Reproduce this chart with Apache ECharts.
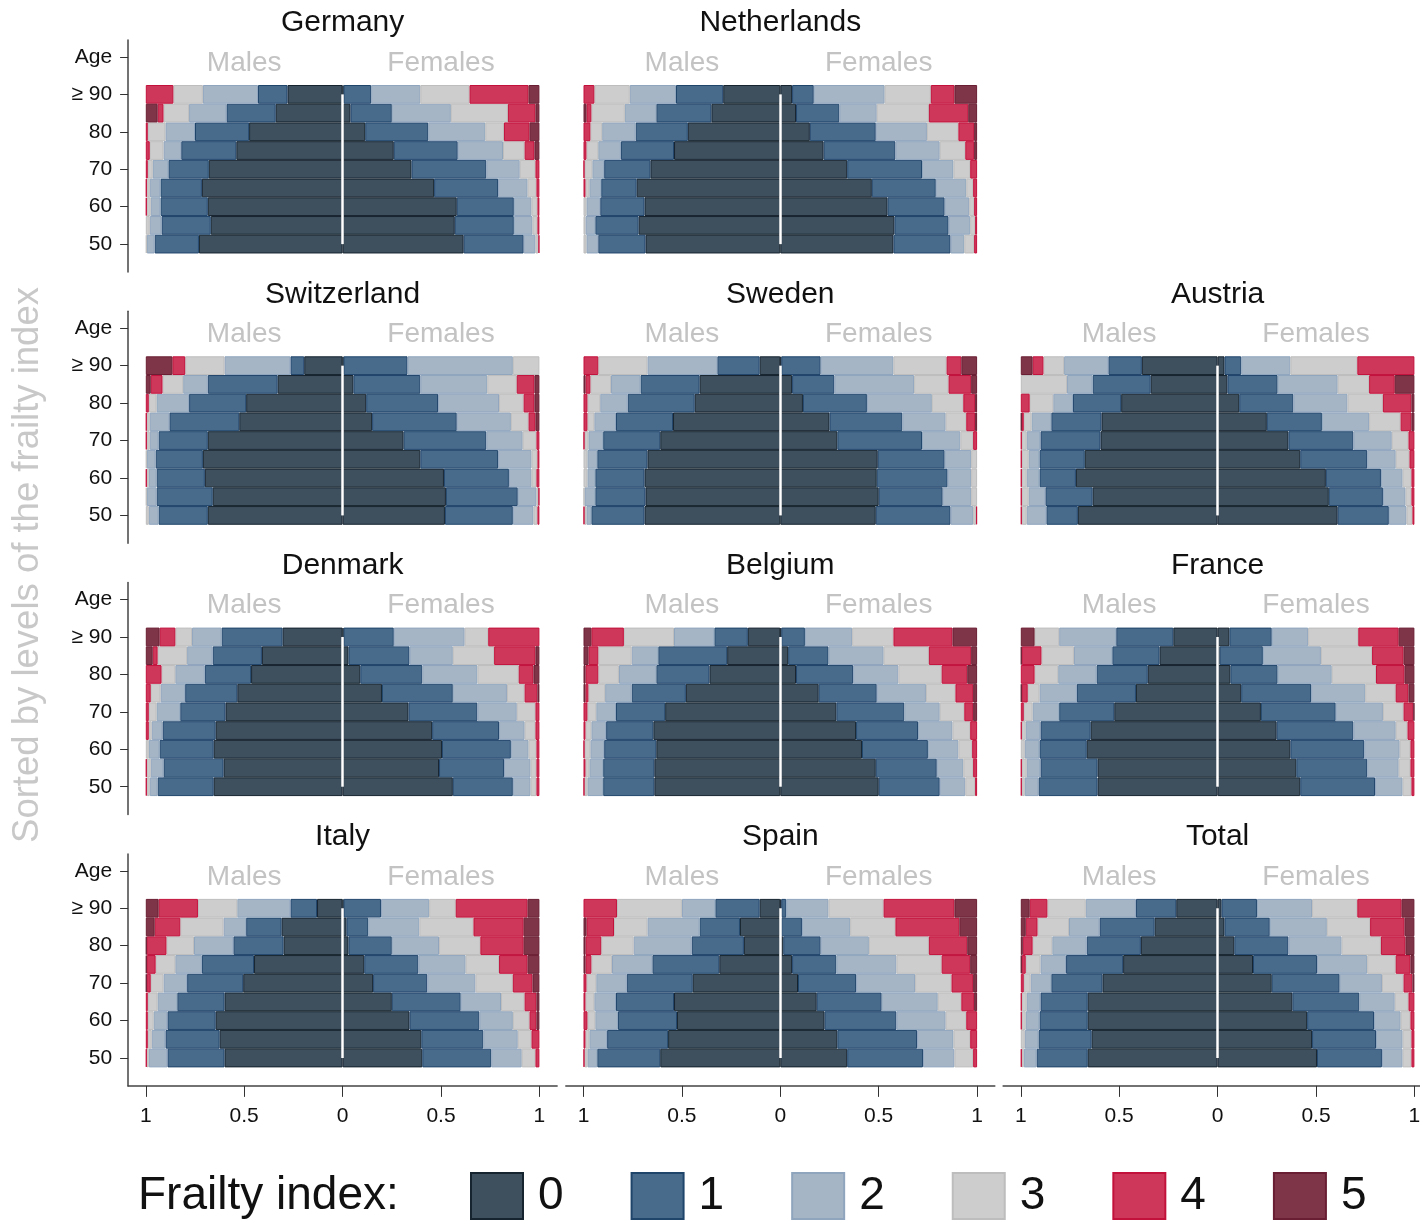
<!DOCTYPE html>
<html>
<head>
<meta charset="utf-8">
<script src="https://cdn.jsdelivr.net/npm/echarts@6/dist/echarts.min.js"></script>
<style>
  html, body { margin: 0; padding: 0; background: #fff; }
  #chart { width: 1420px; height: 1221px; }
</style>
</head>
<body>
<div id="chart"></div>
<script>
// Age groups (bottom to top) and frailty index levels
const ageGroups = ['50', '55', '60', '65', '70', '75', '80', '85', '≥ 90'];
const frailtyLevels = ['0', '1', '2', '3', '4', '5'];
const xTickValues = [-1, -0.5, 0, 0.5, 1];
const countries = ['Germany', 'Netherlands', 'Switzerland', 'Sweden', 'Austria',
  'Denmark', 'Belgium', 'France', 'Italy', 'Spain', 'Total'];

// Share (%) of each frailty level 0..5; rows listed from ≥ 90 down to 50
const germanyMales = [
  [28, 15, 28, 15, 14, 0], [34, 25, 19, 13, 3, 6], [47.5, 27.5, 15, 9, 1, 0],
  [54, 28, 9, 7, 2, 0], [68, 20.5, 8, 2.5, 1, 0], [71.5, 21, 5.5, 1.5, 0.5, 0],
  [68.5, 24, 5, 2, 0.5, 0], [67, 25, 6, 2, 0, 0], [73, 22.5, 4, 0.5, 0, 0]];
const germanyFemales = [
  [0.5, 14, 25, 25, 30, 5.5], [4, 21, 30, 29, 14, 2], [11.5, 32, 29, 9.5, 13, 5],
  [26, 32.5, 23, 11, 5, 2.5], [35, 38, 17, 8, 2, 0], [46.5, 32.5, 15, 4.5, 1.5, 0],
  [58, 29, 9, 3, 1, 0], [57, 30, 9.5, 2.5, 1, 0], [61.5, 30.5, 6, 1.5, 0.5, 0]];

const netherlandsMales = [
  [29, 24, 23.5, 18, 5.5, 0], [35, 28, 16, 17, 2.5, 1.5], [47, 26.5, 17, 6, 3.5, 0],
  [54, 27, 11.5, 6, 1.5, 0], [66, 23.5, 6, 4, 0.5, 0], [73, 18, 6, 2, 1, 0],
  [69, 22.5, 7, 1.5, 0, 0], [72, 22, 5, 1, 0, 0], [68.5, 24, 6, 1.5, 0, 0]];
const netherlandsFemales = [
  [6, 11, 36, 23.5, 12, 11.5], [8, 22, 19, 26.5, 20, 4.5], [15, 33.5, 26, 16, 8, 1.5],
  [22, 36.5, 22.5, 13, 4.5, 1.5], [34, 38, 16, 8.5, 3.5, 0], [46.5, 32.5, 15.5, 3.5, 2, 0],
  [54.5, 29, 12.5, 2.5, 1.5, 0], [58, 27.5, 11, 2.5, 1, 0], [57.5, 29, 7, 5, 1.5, 0]];

const switzerlandMales = [
  [19.5, 7, 33.5, 20, 6.5, 13.5], [33, 35.5, 12.5, 10.5, 6, 2.5], [49, 29, 16.5, 4, 1.5, 0],
  [52.5, 35.5, 10, 1.5, 0.5, 0], [68.5, 25, 4.5, 1.5, 0.5, 0], [71, 24, 4.5, 0.5, 0, 0],
  [70, 24.5, 4, 1, 0.5, 0], [66, 28.5, 5, 0.5, 0, 0], [68.5, 25, 5, 1.5, 0, 0]];
const switzerlandFemales = [
  [0.5, 32.5, 53.5, 13.5, 0, 0], [5.5, 34, 34, 15, 9, 2.5], [12, 36.5, 31, 12.5, 5.5, 2.5],
  [15, 43, 27.5, 9, 3.5, 2], [31, 42, 18.5, 7, 1.5, 0], [39.5, 39.5, 17, 3, 1, 0],
  [51.5, 33, 11.5, 2.5, 1.5, 0], [52.5, 36.5, 9.5, 1, 0.5, 0], [52, 34.5, 10.5, 2, 1, 0]];

const swedenMales = [
  [10.5, 21.5, 35.5, 25, 7.5, 0], [41, 30, 15, 10.5, 2.5, 1], [43.5, 34, 14, 6.5, 2, 0],
  [54.5, 29, 11, 3.5, 2, 0], [61, 29, 7.5, 2, 0.5, 0], [67.5, 25.5, 5, 2, 0, 0],
  [69, 25, 4, 2, 0, 0], [68.5, 25.5, 5.5, 0.5, 0, 0], [69, 27, 2.5, 1, 0.5, 0]];
const swedenFemales = [
  [0.5, 20, 37, 27, 7.5, 8], [6, 21.5, 40.5, 17.5, 11.5, 3], [11.5, 32.5, 33, 16, 6, 1],
  [25, 37, 22, 10.5, 4.5, 1], [29, 43, 19.5, 6.5, 2, 0], [49.5, 34, 13.5, 3, 0, 0],
  [49, 36, 12, 3, 0, 0], [50, 32.5, 14.5, 3, 0, 0], [48.5, 38, 11.5, 1.5, 0.5, 0]];

const austriaMales = [
  [38.5, 17, 22.5, 10.5, 5.5, 6], [34, 29.5, 13, 23.5, 0, 0], [49, 24.5, 10, 12, 4.5, 0],
  [59, 25.5, 10, 4, 1, 0.5], [59.5, 30.5, 7, 2.5, 0.5, 0], [67.5, 23, 5.5, 3.5, 0.5, 0],
  [72, 18.5, 6.5, 2.5, 0.5, 0], [63.5, 24, 8.5, 3.5, 0.5, 0], [71, 16, 10, 2.5, 0.5, 0]];
const austriaFemales = [
  [3.5, 8.5, 25, 34, 29, 0], [5, 25.5, 30.5, 16, 13, 10], [11, 27.5, 27.5, 18, 14.5, 1.5],
  [25, 28, 24, 16, 5.5, 1.5], [36, 33, 19.5, 8.5, 3, 0], [42, 34, 14.5, 7, 2.5, 0],
  [55, 28, 11, 4.5, 1.5, 0], [56.5, 27.5, 11.5, 3, 1.5, 0], [61, 26, 9, 3, 1, 0]];

const denmarkMales = [
  [30.5, 31, 15, 8.5, 8, 7], [41, 25, 13, 15, 2.5, 3.5], [46.5, 23.5, 15, 7, 8, 0],
  [53.5, 26.5, 12.5, 5, 2.5, 0], [59.5, 23, 12, 4, 1.5, 0], [64.5, 27, 5.5, 1.5, 1.5, 0],
  [65.5, 27.5, 5.5, 1.5, 0, 0], [60.5, 30.5, 6.5, 2, 0.5, 0], [65.5, 28.5, 4, 1.5, 0.5, 0]];
const denmarkFemales = [
  [0.5, 25.5, 36, 12, 26, 0], [3, 31, 22, 21, 21, 2], [9, 31.5, 28, 21, 7.5, 3],
  [20, 36, 27.5, 9, 6.5, 1], [33.5, 35, 20, 9.5, 2, 0], [45.5, 34, 13, 5.5, 2, 0],
  [50.5, 35, 9, 4, 1.5, 0], [49, 33, 13.5, 3, 1.5, 0], [56, 30.5, 9, 3, 1.5, 0]];

const belgiumMales = [
  [16.5, 17, 20.5, 25.5, 16.5, 4], [27, 35, 13.5, 17, 5, 2.5], [36, 27, 19, 10.5, 6.5, 1],
  [48, 27.5, 13.5, 8.5, 1.5, 1], [58.5, 25, 10, 4.5, 2, 0], [64.5, 24, 7.5, 3, 1, 0],
  [63, 26.5, 7, 3, 0.5, 0], [64, 26, 7, 2, 1, 0], [64, 26, 8, 1.5, 0.5, 0]];
const belgiumFemales = [
  [0.5, 12, 24, 21, 30, 12.5], [4, 20.5, 28, 23, 21.5, 3], [8, 29, 23, 22, 13, 5],
  [19.5, 29.5, 25, 15, 9, 2], [28.5, 34.5, 18, 12.5, 4.5, 2], [38.5, 31.5, 17.5, 9, 3.5, 0],
  [41.5, 33.5, 15.5, 7, 2.5, 0], [48.5, 31, 13.5, 5, 2, 0], [50, 31, 13, 5, 1, 0]];

const franceMales = [
  [22.5, 29, 29, 12.5, 0, 7], [29.5, 24, 19.5, 16.5, 10, 0.5], [35.5, 26, 19.5, 12, 7, 0],
  [41.5, 30, 19, 6, 3, 0.5], [52.5, 28, 13.5, 4.5, 1.5, 0], [64.5, 25.5, 7.5, 2, 0.5, 0],
  [66.5, 24, 7.5, 2, 0, 0], [61, 29, 7, 2.5, 0.5, 0], [61, 30, 7, 1.5, 0.5, 0]];
const franceFemales = [
  [6, 21.5, 18.5, 25.5, 20.5, 8], [1, 22, 29.5, 26, 16, 5.5], [6.5, 24, 27.5, 22.5, 14.5, 5],
  [12, 35.5, 27.5, 15.5, 6.5, 3], [22, 38, 24, 10.5, 5, 0.5], [30, 39, 21.5, 6, 3.5, 0],
  [37, 37.5, 18, 5.5, 2, 0], [40, 36, 16, 6, 2, 0], [42, 38, 14, 4.5, 1.5, 0]];

const italyMales = [
  [13, 13.5, 27, 20, 20, 6.5], [31, 18, 11.5, 22, 13, 4.5], [30, 25.5, 20, 14, 10, 0.5],
  [45, 26.5, 13.5, 10, 4.5, 0.5], [50.5, 28.5, 12, 6.5, 2, 0.5], [60, 24, 10, 5, 1, 0],
  [64.5, 24.5, 7, 3, 1, 0], [62.5, 27.5, 7, 2, 1, 0], [60, 29, 9.5, 1, 0.5, 0]];
const italyFemales = [
  [0.5, 19, 24.5, 13.5, 36.5, 6], [2, 11, 26, 27.5, 25.5, 8], [3, 22, 24, 21, 22, 8],
  [11, 27.5, 24, 17, 14.5, 6], [15.5, 27.5, 24.5, 19, 10, 3.5], [25, 35, 20.5, 12, 6, 1.5],
  [34, 35.5, 17, 8.5, 3.5, 1.5], [40, 31.5, 17.5, 7, 4, 0], [40.5, 35, 15.5, 7, 2, 0]];

const spainMales = [
  [10.5, 22.5, 17, 33, 17, 0], [20.5, 20.5, 26.5, 17, 14, 1.5], [18.5, 26.5, 29.5, 16.5, 8, 1],
  [31, 34, 20.5, 10.5, 3, 1], [44.5, 33.5, 15.5, 5, 1.5, 0], [54, 29.5, 11, 4.5, 1, 0],
  [52.5, 30, 11.5, 4, 2, 0], [57, 31, 9, 2, 1, 0], [61, 32, 5, 1.5, 0.5, 0]];
const spainFemales = [
  [0.5, 2.5, 21.5, 28, 36, 11.5], [0.5, 10.5, 24.5, 23, 32.5, 9], [1.5, 19, 24.5, 30.5, 19.5, 5],
  [6, 22.5, 30.5, 23, 14.5, 3.5], [9, 29.5, 30, 18.5, 11, 2], [18.5, 33, 28.5, 12, 6.5, 1.5],
  [22.5, 36.5, 25, 10.5, 5.5, 0], [29, 40.5, 18.5, 8.5, 3.5, 0], [34, 38.5, 16, 9.5, 2, 0]];

const totalMales = [
  [21, 20.5, 25.5, 19.5, 9, 4.5], [32, 28, 15.5, 16, 6, 2.5], [39, 27.5, 17.5, 10, 5, 1],
  [48, 29, 13, 7.5, 2, 0.5], [58.5, 26, 10.5, 3.5, 1.5, 0], [66, 24, 7, 2.5, 0.5, 0],
  [66, 24.5, 7, 2, 0.5, 0], [64, 27, 7, 2, 0, 0], [66, 26, 6.5, 1, 0.5, 0]];
const totalFemales = [
  [2, 18, 28, 23, 22.5, 6.5], [3.5, 23, 29, 22, 17.5, 5], [8.5, 27.5, 27, 20, 12.5, 4.5],
  [18, 32.5, 25.5, 14.5, 7.5, 2], [27.5, 34.5, 21.5, 11, 4.5, 1], [38, 34, 18, 7, 3, 0],
  [45.5, 34, 13.5, 5, 2, 0], [48, 32.5, 13.5, 4.5, 1.5, 0], [50.5, 33, 10.5, 4.5, 1.5, 0]];

const malesByCountry = [germanyMales, netherlandsMales, switzerlandMales, swedenMales, austriaMales,
  denmarkMales, belgiumMales, franceMales, italyMales, spainMales, totalMales];
const femalesByCountry = [germanyFemales, netherlandsFemales, switzerlandFemales, swedenFemales, austriaFemales,
  denmarkFemales, belgiumFemales, franceFemales, italyFemales, spainFemales, totalFemales];

// ---- layout ----
const CANVAS_W = 1420;
const panelSlots = [[0, 0], [0, 1], [1, 0], [1, 1], [1, 2], [2, 0], [2, 1], [2, 2], [3, 0], [3, 1], [3, 2]];
const colCenter = [342.6, 780.3, 1217.6];
const UNIT = 196.8;          // px per share of 1
const BAND = 18.72;          // px per age group
const PAD = 17.7;            // plot region margin beyond the bars
const rowBarsTop = r => 85 + 271.3 * r;
const FONT = 'Liberation Sans, Arial, sans-serif';

const levelColors = ['#3e4f5e', '#486b8c', '#a5b5c6', '#cdcdcd', '#cf375a', '#7f3548'];
const levelBorders = ['#16242f', '#20456b', '#8fa5bd', '#bdbdbd', '#c2123c', '#6a1e33'];

const yCategories = ageGroups.concat(['', 'Age']);

const grids = [], xAxes = [], yAxes = [], series = [], texts = [];

countries.forEach((country, i) => {
  const [r, c] = panelSlots[i];
  const cx = colCenter[c];
  const top = rowBarsTop(r);

  // bars grid
  const g = grids.length;
  grids.push({ left: cx - UNIT, top: top - 2 * BAND, width: 2 * UNIT, height: 11 * BAND,
    containLabel: false, outerBoundsMode: 'none' });
  xAxes.push({ gridIndex: g, type: 'value', min: -1, max: 1, show: false,
    axisLine: { onZero: false } });
  yAxes.push({
    gridIndex: g, type: 'category', data: yCategories, show: c === 0, offset: PAD, position: 'left',
    axisLine: { show: false, onZero: false },
    axisTick: { show: true, alignWithLabel: true, length: 8, interval: idx => idx % 2 === 0,
      lineStyle: { color: '#333', width: 1 } },
    axisLabel: { interval: idx => idx % 2 === 0, margin: 16, fontSize: 21, color: '#111', fontFamily: FONT }
  });

  // frame grid carrying the axis lines
  const f = grids.length;
  const frameLeft = cx - UNIT - PAD;
  const frameRight = Math.min(cx + UNIT + PAD, CANVAS_W);
  grids.push({ left: frameLeft, top: top - 45, width: frameRight - frameLeft, height: 9 * BAND + 45 + 18.5,
    containLabel: false, outerBoundsMode: 'none' });
  xAxes.push({
    gridIndex: f, type: 'value', min: -1 - PAD / UNIT, max: (frameRight - cx) / UNIT, show: r === 3,
    position: 'bottom',
    axisLine: { show: true, onZero: false, lineStyle: { color: '#444', width: 1.5 } },
    axisTick: { show: true, length: 11, customValues: xTickValues, lineStyle: { color: '#333', width: 1 } },
    axisLabel: { customValues: xTickValues, margin: 20, fontSize: 21, color: '#111', fontFamily: FONT,
      hideOverlap: false, formatter: v => String(Math.abs(v)) },
    splitLine: { show: false }
  });
  yAxes.push({
    gridIndex: f, type: 'value', min: 0, max: 1, show: c === 0, position: 'left',
    axisLine: { show: true, onZero: false, lineStyle: { color: '#444', width: 1.5 } },
    axisTick: { show: false }, axisLabel: { show: false }, splitLine: { show: false }
  });

  const groups = [[malesByCountry[i], -1], [femalesByCountry[i], 1]];
  groups.forEach(([rows, sign], sIdx) => {
    const ordered = rows.slice().reverse();   // 50 first
    frailtyLevels.forEach((lvl, k) => {
      const s = {
        type: 'bar', name: lvl, xAxisIndex: g, yAxisIndex: g, stack: 'panel' + i,
        barCategoryGap: '0%', silent: true,
        data: ordered.map(row => row[k] === 0 ? '-' : sign * row[k] / 100),
        itemStyle: { color: levelColors[k], borderColor: levelBorders[k], borderWidth: 1 },
        emphasis: { disabled: true }
      };
      if (sIdx === 1 && k === frailtyLevels.length - 1) {
        s.markLine = {
          silent: true, symbol: ['none', 'none'], label: { show: false },
          lineStyle: { color: '#ffffff', width: 2.5, type: 'solid' },
          data: [[{ coord: [0, '≥ 90'] }, { coord: [0, '50'] }]]
        };
      }
      series.push(s);
    });
  });

  texts.push({ type: 'text', x: cx, y: top - 62, silent: true,
    style: { text: country, fontSize: 30, fontFamily: FONT, fill: '#111', align: 'center', verticalAlign: 'middle' } });
  texts.push({ type: 'text', x: cx - UNIT / 2, y: top - 22, silent: true,
    style: { text: 'Males', fontSize: 28, fontFamily: FONT, fill: '#c3c3c3', align: 'center', verticalAlign: 'middle' } });
  texts.push({ type: 'text', x: cx + UNIT / 2, y: top - 22, silent: true,
    style: { text: 'Females', fontSize: 28, fontFamily: FONT, fill: '#c3c3c3', align: 'center', verticalAlign: 'middle' } });
});

texts.push({ type: 'text', x: 28, y: 565, rotation: Math.PI / 2, silent: true,
  style: { text: 'Sorted by levels of the frailty index', fontSize: 36.5, fontFamily: FONT, fill: '#c8c8c8',
    align: 'center', verticalAlign: 'middle' } });
texts.push({ type: 'text', x: 138, y: 1196, silent: true,
  style: { text: 'Frailty index:', fontSize: 46, fontFamily: FONT, fill: '#111', align: 'left', verticalAlign: 'middle' } });

const chart = echarts.init(document.getElementById('chart'), null, { renderer: 'canvas' });
chart.setOption({
  animation: false,
  backgroundColor: '#ffffff',
  textStyle: { fontFamily: FONT },
  grid: grids,
  xAxis: xAxes,
  yAxis: yAxes,
  legend: {
    data: frailtyLevels, left: 470, top: 1172, padding: 0, icon: 'rect',
    itemWidth: 52, itemHeight: 46, itemGap: 67, selectedMode: false,
    textStyle: { fontSize: 46, color: '#111', fontFamily: FONT, padding: [0, 0, 0, 10] }
  },
  graphic: { elements: texts },
  series: series
});
</script>
</body>
</html>
